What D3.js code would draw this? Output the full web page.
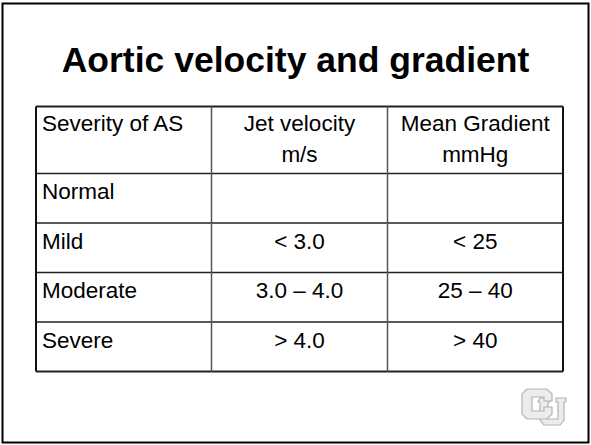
<!DOCTYPE html>
<html>
<head>
<meta charset="utf-8">
<script src="https://cdn.jsdelivr.net/npm/d3@7"></script>
<style>
  body { margin: 0; background: #fff; }
  text { font-family: "Liberation Sans", Arial, sans-serif; fill: #000; }
</style>
</head>
<body>
<svg id="vis" width="591" height="445"></svg>
<script>
const svg = d3.select("#vis");

const TITLE = "Aortic velocity and gradient";
const HEADER_TOP = ["Severity of AS", "Jet velocity", "Mean Gradient"];
const HEADER_BOTTOM = ["", "m/s", "mmHg"];
const SEVERITY = ["Normal", "Mild", "Moderate", "Severe"];
const VELOCITY = ["", "< 3.0", "3.0 \u2013 4.0", "> 4.0"];
const GRADIENT = ["", "< 25", "25 \u2013 40", "> 40"];

// column edges and rows
const colEdges = [36, 211.5, 387.5, 563];
const headTop = 106.5, headBottom = 173.5, tableBottom = 371.5;
const rowScale = d3.scaleBand().domain(SEVERITY).range([headBottom, tableBottom]);

// slide frame
svg.append("rect")
  .attr("x", 2.5).attr("y", 3.5)
  .attr("width", 586).attr("height", 439)
  .attr("fill", "none")
  .attr("stroke", "#000")
  .attr("stroke-width", 2);

svg.append("text")
  .attr("x", 295.5).attr("y", 72)
  .attr("text-anchor", "middle")
  .style("font-weight", "bold")
  .style("font-size", "35.5px")
  .text(TITLE);

const table = svg.append("g");

// horizontal lines
const hLines = [headTop, headBottom].concat(SEVERITY.map(d => rowScale(d) + rowScale.bandwidth()));
table.selectAll(".hline").data(hLines).join("line")
  .attr("class", "hline")
  .attr("x1", colEdges[0]).attr("x2", colEdges[3])
  .attr("y1", d => d).attr("y2", d => d)
  .attr("stroke", "#222")
  .attr("stroke-width", (d, i) => (i === 0 || i === hLines.length - 1) ? 2 : 1.5);

table.selectAll(".vline").data(colEdges).join("line")
  .attr("class", "vline")
  .attr("x1", d => d).attr("x2", d => d)
  .attr("y1", headTop).attr("y2", tableBottom)
  .attr("stroke", (d, i) => (i === 0 || i === 3) ? "#111" : "#555")
  .attr("stroke-width", (d, i) => (i === 0 || i === 3) ? 2 : 1.5);

const FS = "22.5px";
function cellX(c) {
  return c === 0 ? colEdges[0] + 6 : (colEdges[c] + colEdges[c + 1]) / 2;
}

// header
[HEADER_TOP, HEADER_BOTTOM].forEach((arr, line) => {
  table.selectAll(".head" + line).data(arr).join("text")
    .attr("class", "head" + line)
    .attr("x", (d, i) => cellX(i))
    .attr("y", headTop + 24.5 + line * 31)
    .attr("text-anchor", (d, i) => i === 0 ? "start" : "middle")
    .style("font-size", FS)
    .text(d => d);
});

// body
const cols = [SEVERITY, VELOCITY, GRADIENT];
cols.forEach((arr, c) => {
  table.selectAll(".col" + c).data(arr).join("text")
    .attr("class", "col" + c)
    .attr("x", cellX(c))
    .attr("y", (d, i) => rowScale(SEVERITY[i]) + 25.5)
    .attr("text-anchor", c === 0 ? "start" : "middle")
    .style("font-size", FS)
    .text(d => d);
});

// CU logo, light grey
const logo = svg.append("g")
  .attr("fill", "none")
  .attr("stroke-linejoin", "miter");
// U shape (behind)
const uPath = "M540,398 h10 v4 h-2 v17 h10 v-17 h-2 v-4 h10 v4 h-2 v18 l-4,5 h-16 l-4,-5 v-18 h-2 z";
logo.append("path").attr("d", uPath).attr("fill", "#ececec").attr("stroke", "#b4b4b4").attr("stroke-width", 1.2);
// C shape
const cPath = "M527,389 h20 l5,5 v7 h-8 v-4 h-12 v14 h12 v-4 h8 v7 l-5,5 h-20 l-5,-5 v-20 z";
logo.append("path").attr("d", cPath).attr("fill", "#ececec").attr("stroke", "#b4b4b4").attr("stroke-width", 1.2);
</script>
</body>
</html>
